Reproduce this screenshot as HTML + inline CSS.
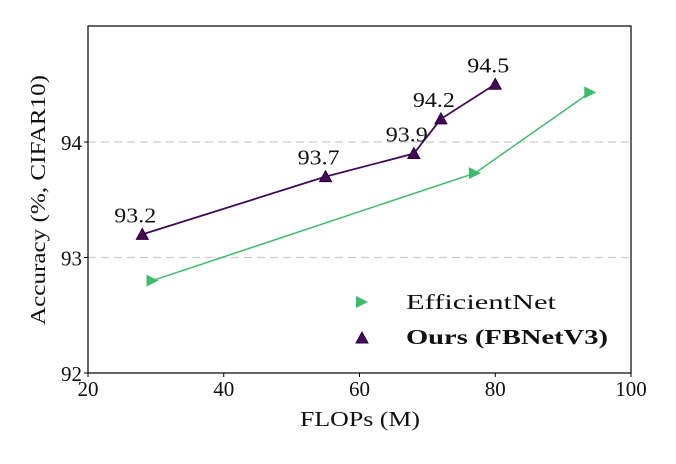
<!DOCTYPE html>
<html><head><meta charset="utf-8"><style>
body{margin:0;background:#fff;}
svg text{font-family:"Liberation Serif",serif;fill:#111;}
</style></head><body>
<svg id="chart" width="676" height="459" xmlns="http://www.w3.org/2000/svg">
<g id="grid"></g>
<g id="series"></g>
<rect x="88" y="26" width="543" height="347" fill="none" stroke="#000" stroke-width="1.2"/>
<g id="axes"></g>
<text x="300" y="426" font-size="21" textLength="120" lengthAdjust="spacingAndGlyphs">FLOPs (M)</text>
<text transform="translate(45,325) rotate(-90)" font-size="21" textLength="250" lengthAdjust="spacingAndGlyphs">Accuracy (%, CIFAR10)</text>
<g>
<polygon points="356,296 356,308 368,302" fill="#3dbc6b"/>
<text x="406" y="309" font-size="21" textLength="150" lengthAdjust="spacingAndGlyphs">EfficientNet</text>
<polygon points="356,343 368,343 362,332" fill="#440a5a" stroke="#2a0038"/>
<text x="406" y="344" font-size="21" font-weight="bold" textLength="202" lengthAdjust="spacingAndGlyphs">Ours (FBNetV3)</text>
</g>
</svg>
<script>
const xTicks=[20,40,60,80,100];
const yTicks=[92,93,94];
const effFlops=[29.5,77,94];
const effAcc=[92.8,93.73,94.43];
const oursFlops=[28,55,68,72,80];
const oursAcc=[93.2,93.7,93.9,94.2,94.5];
const oursLabels=["93.2","93.7","93.9","94.2","94.5"];

const NS="http://www.w3.org/2000/svg";
const X=v=>88+(v-20)*(543/80);
const Y=v=>373-(v-92)*115.5;
function mk(tag,attrs,parent){const e=document.createElementNS(NS,tag);for(const k in attrs)e.setAttribute(k,attrs[k]);parent.appendChild(e);return e;}
const grid=document.getElementById('grid'),axes=document.getElementById('axes'),ser=document.getElementById('series');
yTicks.forEach(t=>{
  if(t>92){const g=mk('line',{x1:88,x2:631,y1:Y(t),y2:Y(t),stroke:'#ccc','stroke-dasharray':'8,5','stroke-width':1.2},grid);
  
  }
  const tk=mk('line',{x1:84,x2:88,y1:Y(t),y2:Y(t),stroke:'#000'},axes);
  
  
  const lb=mk('text',{x:82,y:Y(t)+8,'font-size':21,'text-anchor':'end'},axes);lb.textContent=t;
  
  
});
xTicks.forEach(t=>{
  const tk=mk('line',{x1:X(t),x2:X(t),y1:373,y2:377,stroke:'#000'},axes);
  
  
  const lb=mk('text',{x:X(t),y:396,'font-size':21,'text-anchor':'middle'},axes);lb.textContent=t;
  
  
});
const effLine=mk('polyline',{points:effFlops.map((f,i)=>X(f)+','+Y(effAcc[i])).join(' '),fill:'none',stroke:'#3dbc6b','stroke-width':1.5},ser);


const oursLine=mk('polyline',{points:oursFlops.map((f,i)=>X(f)+','+Y(oursAcc[i])).join(' '),fill:'none',stroke:'#440a5a','stroke-width':1.8},ser);


effFlops.forEach((f,i)=>{const x=X(f),y=Y(effAcc[i]);
  const p=mk('polygon',{points:`${x-6},${y-6} ${x-6},${y+6} ${x+6},${y}`,fill:'#3dbc6b'},ser);
  
  });
oursFlops.forEach((f,i)=>{const x=X(f),y=Y(oursAcc[i]);
  const p=mk('polygon',{points:`${x-6},${y+5} ${x+6},${y+5} ${x},${y-6}`,fill:'#440a5a',stroke:'#2a0038'},ser);
  
  
  const t=mk('text',{x:x-7,y:y-12,'font-size':21,'text-anchor':'middle',textLength:42,lengthAdjust:'spacingAndGlyphs'},ser);t.textContent=oursLabels[i];
  
  });
</script>
</body></html>
